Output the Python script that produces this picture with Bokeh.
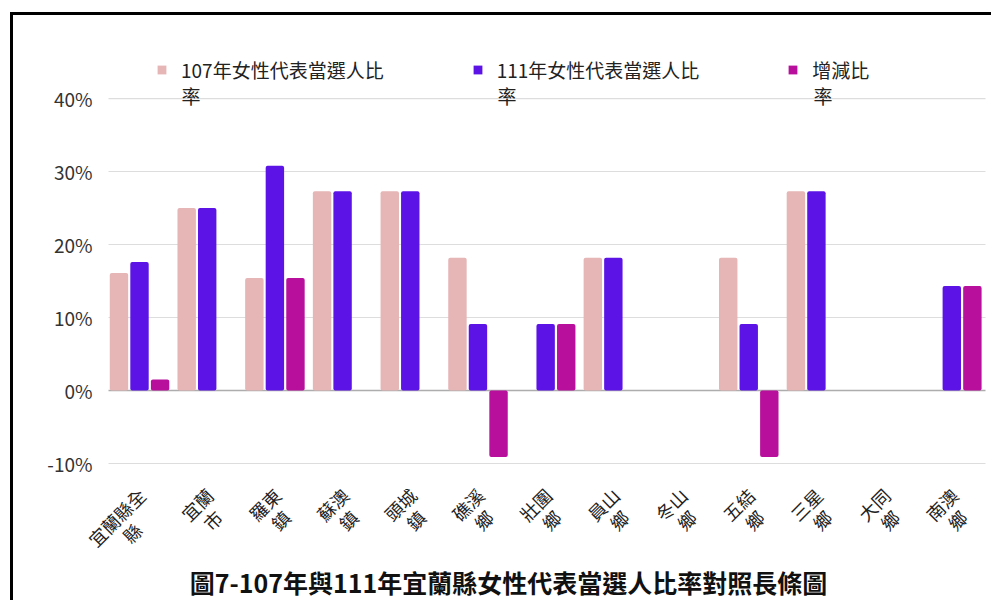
import math
from bokeh.plotting import figure
from bokeh.models import (Range1d, ColumnDataSource, Legend, LegendItem, Label)
from bokeh.core.properties import value
from bokeh.embed import file_html
from bokeh.resources import INLINE

categories = ["宜蘭縣全縣", "宜蘭市", "羅東鎮", "蘇澳鎮", "頭城鎮", "礁溪鄉",
              "壯圍鄉", "員山鄉", "冬山鄉", "五結鄉", "三星鄉", "大同鄉", "南澳鄉"]
label_line1 = ["宜蘭縣全", "宜蘭", "羅東", "蘇澳", "頭城", "礁溪",
               "壯圍", "員山", "冬山", "五結", "三星", "大同", "南澳"]
label_line2 = ["縣", "市", "鎮", "鎮", "鎮", "鄉", "鄉", "鄉", "鄉", "鄉", "鄉", "鄉", "鄉"]
rate_107 = [0.161, 0.250, 0.154, 0.273, 0.273, 0.182, 0.0, 0.182, 0.0, 0.182, 0.273, 0.0, 0.0]
rate_111 = [0.176, 0.250, 0.308, 0.273, 0.273, 0.091, 0.091, 0.182, 0.0, 0.091, 0.273, 0.0, 0.143]
change = [0.015, 0.0, 0.154, 0.0, 0.0, -0.091, 0.091, 0.0, 0.0, -0.091, 0.0, 0.0, 0.143]
series_first_line = ["107年女性代表當選人比", "111年女性代表當選人比", "增減比"]
series_second_line = ["率", "率", "率"]
y_ticks = [-0.1, 0.0, 0.1, 0.2, 0.3, 0.4]
y_tick_labels = ["-10%", "0%", "10%", "20%", "30%", "40%"]
title_text = "圖7-107年與111年宜蘭縣女性代表當選人比率對照長條圖"

colors = ["#E6B5B5", "#5C14E6", "#B8109C"]
FONT = "Noto Sans CJK TC"

# geometry of the drawing area (screen px)
CANVAS_W, CANVAS_H, TOP = 981, 588, 35
PLOT_LEFT, PLOT_W = 95, 880          # where the category slots live inside the canvas
n = len(categories)
slot_px = PLOT_W / n
Y0, Y1 = -0.2918, 0.4658
px_per_unit = (CANVAS_H - TOP) / (Y1 - Y0)
X0 = -PLOT_LEFT / slot_px
X1 = n + (CANVAS_W - PLOT_LEFT - PLOT_W) / slot_px

idx = list(range(n))
offsets = [-0.345, -0.042, 0.262]
bar_w = 0.272

# category label layout: first line anchored top-right, second line centred below it
LBL_SIZE, LBL_LH = 18, 22
anchor_dx, anchor_y = -9.6, -0.126
c45 = math.cos(math.pi / 4)
x1l = [i + 0.5 + anchor_dx / slot_px for i in idx]
x2l, y2l = [], []
for i, l1 in zip(idx, label_line1):
    w1 = len(l1) * LBL_SIZE
    x2l.append(i + 0.5 + (anchor_dx + c45 * (LBL_LH - w1 / 2)) / slot_px)
    y2l.append(anchor_y - c45 * (LBL_LH + w1 / 2) / px_per_unit)

src = ColumnDataSource(dict(
    xa=[i + 0.5 + offsets[0] for i in idx],
    xb=[i + 0.5 + offsets[1] for i in idx],
    xc=[i + 0.5 + offsets[2] for i in idx],
    a=rate_107, b=rate_111, c=change, zero=[0.0] * n,
    l1=label_line1, l2=label_line2, x1l=x1l, x2l=x2l, y2l=y2l))

p = figure(x_range=Range1d(X0, X1), y_range=Range1d(Y0, Y1),
           width=CANVAS_W, height=CANVAS_H, output_backend="svg", toolbar_location=None,
           x_axis_location=None, y_axis_location=None,
           min_border_left=0, min_border_right=0, min_border_top=TOP,
           min_border_bottom=0)
p.styles = {"margin-left": "10px", "margin-top": "12px",
            "border-left": "3px solid #000", "border-top": "3px solid #000"}
p.outline_line_color = None
p.background_fill_color = "white"
p.xgrid.visible = False
p.ygrid.visible = False

# horizontal grid lines and the zero line
grid_end = n - 3 / slot_px
p.segment(x0=0, x1=grid_end, y0=[t for t in y_ticks if t != 0],
          y1=[t for t in y_ticks if t != 0], line_color="#DDDDDD", line_width=1.2)
p.segment(x0=0, x1=grid_end, y0=0, y1=0, line_color="#ADADAD", line_width=1.5)

renderers = []
for xk, key, col in zip(["xa", "xb", "xc"], ["a", "b", "c"], colors):
    r = p.vbar(x=xk, top=key, bottom="zero", width=bar_w, source=src,
               fill_color=col, line_color=None, border_radius=2)
    renderers.append(r)

# y tick labels
p.text(x=-16 / slot_px, y=y_ticks, text=y_tick_labels, text_align="right",
       text_baseline="middle", text_font=value(FONT), text_font_size="19px",
       text_color="#333333")

# category labels (rotated 45°, two lines) under the -10% line
p.text(x="x1l", y=anchor_y, text="l1", source=src, angle=math.pi / 4,
       text_align="right", text_baseline="top",
       text_font=value(FONT), text_font_size=f"{LBL_SIZE}px", text_color="#222222")
p.text(x="x2l", y="y2l", text="l2", source=src, angle=math.pi / 4,
       text_align="center", text_baseline="top",
       text_font=value(FONT), text_font_size=f"{LBL_SIZE}px", text_color="#222222")

legend = Legend(items=[LegendItem(label=s, renderers=[r])
                       for s, r in zip(series_first_line, renderers)],
                orientation="horizontal", location=(48 + PLOT_LEFT, 520))
legend.background_fill_alpha = 0
legend.border_line_color = None
legend.label_text_font = FONT
legend.label_text_font_size = "19px"
legend.label_text_color = "#222222"
legend.glyph_width = 11
legend.glyph_height = 11
legend.label_standoff = 14
legend.spacing = 88
legend.padding = 0
legend.margin = 0
p.add_layout(legend, "center")

# second line of each legend label (x in slot units, y in data units)
for txt, xpos in zip(series_second_line, [1.078, 5.746, 10.414]):
    p.add_layout(Label(x=xpos, y=0.404, text=txt, text_align="left", text_baseline="middle",
                       text_font=FONT, text_font_size="19px", text_color="#222222"))

p.add_layout(Label(x=5.909, y=-0.263, text=title_text, text_align="center",
                   text_baseline="middle", text_font=FONT, text_font_size="25px",
                   text_font_style="bold", text_color="#111111"))

open("out.html", "w").write(file_html(p, INLINE))
